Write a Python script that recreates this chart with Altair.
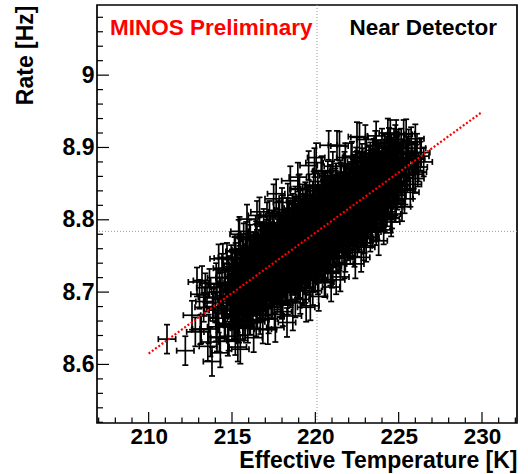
import altair as alt
import pandas as pd

# ---------------- data ----------------
TEMP = [
    211.1,
    212.2, 212.6, 212.9, 212.8,
    213.1, 213.3, 213.4, 213.6, 213.8, 213.9, 213.2, 213.7, 213.5,
    214.3, 214.8, 214.1, 214.6, 214.9, 214.2, 214.5, 214.7, 214.0, 214.4, 214.9, 214.3, 214.6, 214.1, 214.8, 214.4, 214.7, 214.2,
    215.5, 215.2, 215.8, 215.3, 215.0, 215.7, 215.4, 215.9, 215.1, 215.6, 215.3, 215.8, 215.0, 215.5, 215.2, 215.7, 215.4, 215.9, 215.1, 215.6, 215.3, 215.8, 215.0, 215.5, 215.2, 215.7, 215.4, 215.9,
    216.3, 216.7, 216.1, 216.9, 216.5, 216.0, 216.8, 216.2, 216.6, 216.4, 216.3, 216.7, 216.1, 216.9, 216.5, 216.0, 216.8, 216.2, 216.6, 216.4,
    216.3, 216.7, 216.1, 216.9, 216.5, 216.0, 216.8, 216.2, 216.6, 216.4, 216.3, 216.7, 216.1, 216.9, 216.5,
    217.6, 217.2, 217.9, 217.4, 217.0, 217.7, 217.3, 217.8, 217.1, 217.5, 217.6, 217.2, 217.9, 217.4, 217.0, 217.7, 217.3, 217.8, 217.1, 217.5,
    217.6, 217.2, 217.9, 217.4, 217.0, 217.7, 217.3, 217.8, 217.1, 217.5, 217.6, 217.2, 217.9, 217.4, 217.0, 217.7, 217.3, 217.8, 217.1, 217.5,
    218.3, 218.8, 218.0, 218.5, 218.9, 218.2, 218.6, 218.1, 218.7, 218.4, 218.3, 218.8, 218.0, 218.5, 218.9, 218.2, 218.6, 218.1, 218.7, 218.4,
    218.3, 218.8, 218.0, 218.5, 218.9, 218.2, 218.6, 218.1, 218.7, 218.4, 218.3, 218.8, 218.0, 218.5, 218.9, 218.2, 218.6, 218.1, 218.7, 218.4,
    218.3, 218.8, 218.0, 218.5,
    219.7, 219.1, 219.4, 219.9, 219.0, 219.6, 219.2, 219.8, 219.5, 219.3, 219.7, 219.1, 219.4, 219.9, 219.0, 219.6, 219.2, 219.8, 219.5, 219.3,
    219.7, 219.1, 219.4, 219.9, 219.0, 219.6, 219.2, 219.8, 219.5, 219.3, 219.7, 219.1, 219.4, 219.9, 219.0, 219.6, 219.2, 219.8, 219.5, 219.3,
    219.7, 219.1, 219.4, 219.9, 219.0, 219.6,
    220.2, 220.6, 220.9, 220.0, 220.4, 220.8, 220.3, 220.7, 220.1, 220.5, 220.2, 220.6, 220.9, 220.0, 220.4, 220.8, 220.3, 220.7, 220.1, 220.5,
    220.2, 220.6, 220.9, 220.0, 220.4, 220.8, 220.3, 220.7, 220.1, 220.5, 220.2, 220.6, 220.9, 220.0, 220.4, 220.8, 220.3, 220.7, 220.1, 220.5,
    220.2, 220.6, 220.9, 220.0, 220.4, 220.8,
    221.5, 221.0, 221.8, 221.3, 221.6, 221.1, 221.9, 221.4, 221.7, 221.2, 221.5, 221.0, 221.8, 221.3, 221.6, 221.1, 221.9, 221.4, 221.7, 221.2,
    221.5, 221.0, 221.8, 221.3, 221.6, 221.1, 221.9, 221.4, 221.7, 221.2, 221.5, 221.0, 221.8, 221.3, 221.6, 221.1, 221.9, 221.4, 221.7, 221.2,
    221.5, 221.0, 221.8, 221.3,
    222.4, 222.9, 222.1, 222.6, 222.0, 222.7, 222.3, 222.8, 222.2, 222.5, 222.4, 222.9, 222.1, 222.6, 222.0, 222.7, 222.3, 222.8, 222.2, 222.5,
    222.4, 222.9, 222.1, 222.6, 222.0, 222.7, 222.3, 222.8, 222.2, 222.5, 222.4, 222.9, 222.1, 222.6, 222.0, 222.7, 222.3, 222.8, 222.2, 222.5,
    223.8, 223.3, 223.6, 223.0, 223.9, 223.5, 223.2, 223.7, 223.1, 223.4, 223.8, 223.3, 223.6, 223.0, 223.9, 223.5, 223.2, 223.7, 223.1, 223.4,
    223.8, 223.3, 223.6, 223.0, 223.9, 223.5, 223.2, 223.7, 223.1, 223.4, 223.8, 223.3, 223.6, 223.0,
    224.1, 224.6, 224.3, 224.8, 224.0, 224.5, 224.9, 224.2, 224.7, 224.4, 224.1, 224.6, 224.3, 224.8, 224.0, 224.5, 224.9, 224.2, 224.7, 224.4,
    224.1, 224.6, 224.3, 224.8, 224.0, 224.5,
    225.2, 225.7, 225.4, 225.0, 225.9, 225.5, 225.1, 225.6, 225.3, 225.8, 225.1, 225.5, 225.2, 225.6, 225.0, 225.3,
    226.2, 226.0, 226.3, 226.1, 226.5, 226.0,
    # second part
    213.55, 213.15, 213.85, 213.35, 213.65, 213.05,
    214.75, 214.25, 214.55, 214.05, 214.95, 214.45, 214.15, 214.65, 214.35, 214.85, 214.75, 214.25, 214.55, 214.05, 214.95, 214.45,
    215.35, 215.95, 215.65, 215.15, 215.85, 215.45, 215.05, 215.75, 215.25, 215.55, 215.35, 215.95, 215.65, 215.15, 215.85, 215.45, 215.05, 215.75, 215.25, 215.55,
    215.35, 215.95, 215.65, 215.15, 215.85, 215.45,
    216.85, 216.45, 216.05, 216.65, 216.25, 216.95, 216.55, 216.15, 216.75, 216.35, 216.85, 216.45, 216.05, 216.65, 216.25, 216.95, 216.55, 216.15, 216.75, 216.35,
    216.85, 216.45, 216.05, 216.65, 216.25, 216.95, 216.55, 216.15, 216.75, 216.35, 216.85, 216.45, 216.05, 216.65,
    217.15, 217.55, 217.95, 217.35, 217.75, 217.05, 217.45, 217.85, 217.25, 217.65, 217.15, 217.55, 217.95, 217.35, 217.75, 217.05, 217.45, 217.85, 217.25, 217.65,
    217.15, 217.55, 217.95, 217.35, 217.75, 217.05, 217.45, 217.85, 217.25, 217.65, 217.15, 217.55, 217.95, 217.35, 217.75, 217.05, 217.45, 217.85, 217.25, 217.65,
    218.65, 218.05, 218.35, 218.95, 218.55, 218.25, 218.85, 218.15, 218.45, 218.75, 218.65, 218.05, 218.35, 218.95, 218.55, 218.25, 218.85, 218.15, 218.45, 218.75,
    218.65, 218.05, 218.35, 218.95, 218.55, 218.25, 218.85, 218.15, 218.45, 218.75, 218.65, 218.05, 218.35, 218.95, 218.55, 218.25, 218.85, 218.15, 218.45, 218.75,
    218.65, 218.05, 218.35, 218.95,
    219.45, 219.85, 219.25, 219.65, 219.05, 219.95, 219.35, 219.75, 219.15, 219.55, 219.45, 219.85, 219.25, 219.65, 219.05, 219.95, 219.35, 219.75, 219.15, 219.55,
    219.45, 219.85, 219.25, 219.65, 219.05, 219.95, 219.35, 219.75, 219.15, 219.55, 219.45, 219.85, 219.25, 219.65, 219.05, 219.95, 219.35, 219.75, 219.15, 219.55,
    219.45, 219.85, 219.25, 219.65, 219.05, 219.95,
    220.95, 220.55, 220.15, 220.75, 220.35, 220.05, 220.65, 220.25, 220.85, 220.45, 220.95, 220.55, 220.15, 220.75, 220.35, 220.05, 220.65, 220.25, 220.85, 220.45,
    220.95, 220.55, 220.15, 220.75, 220.35, 220.05, 220.65, 220.25, 220.85, 220.45, 220.95, 220.55, 220.15, 220.75, 220.35, 220.05, 220.65, 220.25, 220.85, 220.45,
    220.95, 220.55, 220.15, 220.75, 220.35, 220.05,
    221.25, 221.75, 221.05, 221.45, 221.95, 221.15, 221.65, 221.35, 221.85, 221.55, 221.25, 221.75, 221.05, 221.45, 221.95, 221.15, 221.65, 221.35, 221.85, 221.55,
    221.25, 221.75, 221.05, 221.45, 221.95, 221.15, 221.65, 221.35, 221.85, 221.55, 221.25, 221.75, 221.05, 221.45, 221.95, 221.15, 221.65, 221.35, 221.85, 221.55,
    221.25, 221.75, 221.05, 221.45,
    222.75, 222.35, 222.95, 222.05, 222.55, 222.25, 222.85, 222.45, 222.15, 222.65, 222.75, 222.35, 222.95, 222.05, 222.55, 222.25, 222.85, 222.45, 222.15, 222.65,
    222.75, 222.35, 222.95, 222.05, 222.55, 222.25, 222.85, 222.45, 222.15, 222.65, 222.75, 222.35, 222.95, 222.05, 222.55, 222.25, 222.85, 222.45, 222.15, 222.65,
    223.05, 223.65, 223.35, 223.95, 223.15, 223.55, 223.85, 223.25, 223.75, 223.45, 223.05, 223.65, 223.35, 223.95, 223.15, 223.55, 223.85, 223.25, 223.75, 223.45,
    223.05, 223.65, 223.35, 223.95, 223.15, 223.55, 223.85, 223.25, 223.75, 223.45, 223.05, 223.65,
    224.55, 224.15, 224.85, 224.35, 224.05, 224.65, 224.95, 224.25, 224.75, 224.45, 224.55, 224.15, 224.85, 224.35, 224.05, 224.65, 224.95, 224.25, 224.75, 224.45,
    224.55, 224.15, 224.85, 224.35,
    225.35, 225.85, 225.15, 225.65, 225.05, 225.45, 225.95, 225.25, 225.55, 225.75, 225.15, 225.45,
    226.15, 226.35, 226.05,
    # third part (dense core)
    215.52, 215.22, 215.82, 215.02, 215.62, 215.32, 215.92, 215.12, 215.72, 215.42, 215.52, 215.22, 215.82, 215.02, 215.62, 215.32, 215.92, 215.12, 215.72, 215.42,
    215.52, 215.22, 215.82, 215.02, 215.62, 215.32, 215.92, 215.12, 215.72, 215.42,
    216.52, 216.22, 216.82, 216.02, 216.62, 216.32, 216.92, 216.12, 216.72, 216.42, 216.52, 216.22, 216.82, 216.02, 216.62, 216.32, 216.92, 216.12, 216.72, 216.42,
    216.52, 216.22, 216.82, 216.02, 216.62, 216.32, 216.92, 216.12, 216.72, 216.42,
    217.52, 217.22, 217.82, 217.02, 217.62, 217.32, 217.92, 217.12, 217.72, 217.42, 217.52, 217.22, 217.82, 217.02, 217.62, 217.32, 217.92, 217.12, 217.72, 217.42,
    217.52, 217.22, 217.82, 217.02, 217.62, 217.32, 217.92, 217.12, 217.72, 217.42,
    218.52, 218.22, 218.82, 218.02, 218.62, 218.32, 218.92, 218.12, 218.72, 218.42, 218.52, 218.22, 218.82, 218.02, 218.62, 218.32, 218.92, 218.12, 218.72, 218.42,
    218.52, 218.22, 218.82, 218.02, 218.62, 218.32, 218.92, 218.12, 218.72, 218.42,
    219.52, 219.22, 219.82, 219.02, 219.62, 219.32, 219.92, 219.12, 219.72, 219.42, 219.52, 219.22, 219.82, 219.02, 219.62, 219.32, 219.92, 219.12, 219.72, 219.42,
    219.52, 219.22, 219.82, 219.02, 219.62, 219.32, 219.92, 219.12, 219.72, 219.42,
    220.52, 220.22, 220.82, 220.02, 220.62, 220.32, 220.92, 220.12, 220.72, 220.42, 220.52, 220.22, 220.82, 220.02, 220.62, 220.32, 220.92, 220.12, 220.72, 220.42,
    220.52, 220.22, 220.82, 220.02, 220.62, 220.32, 220.92, 220.12, 220.72, 220.42,
    221.52, 221.22, 221.82, 221.02, 221.62, 221.32, 221.92, 221.12, 221.72, 221.42, 221.52, 221.22, 221.82, 221.02, 221.62, 221.32, 221.92, 221.12, 221.72, 221.42,
    221.52, 221.22, 221.82, 221.02, 221.62, 221.32, 221.92, 221.12, 221.72, 221.42,
    222.52, 222.22, 222.82, 222.02, 222.62, 222.32, 222.92, 222.12, 222.72, 222.42, 222.52, 222.22, 222.82, 222.02, 222.62, 222.32, 222.92, 222.12, 222.72, 222.42,
    222.52, 222.22, 222.82, 222.02, 222.62, 222.32, 222.92, 222.12, 222.72, 222.42,
    223.52, 223.22, 223.82, 223.02, 223.62, 223.32, 223.92, 223.12, 223.72, 223.42, 223.52, 223.22, 223.82, 223.02, 223.62, 223.32, 223.92, 223.12, 223.72, 223.42,
    223.52, 223.22, 223.82, 223.02, 223.62, 223.32, 223.92, 223.12, 223.72, 223.42,
    224.52, 224.22, 224.82, 224.02, 224.62, 224.32, 224.92, 224.12, 224.72, 224.42, 224.52, 224.22, 224.82, 224.02, 224.62, 224.32, 224.92, 224.12, 224.72, 224.42,
    224.52, 224.22, 224.82, 224.02, 224.62, 224.32, 224.92, 224.12, 224.72, 224.42,
]
RATE = [
    8.635,
    8.619, 8.668, 8.714, 8.645,
    8.648, 8.679, 8.706, 8.649, 8.604, 8.685, 8.716, 8.631, 8.693,
    8.616, 8.639, 8.638, 8.656, 8.668, 8.664, 8.675, 8.685, 8.678, 8.691, 8.704, 8.700, 8.711, 8.711, 8.730, 8.733, 8.748, 8.746,
    8.621, 8.633, 8.653, 8.653, 8.654, 8.672, 8.673, 8.686, 8.678, 8.691, 8.690, 8.702, 8.693, 8.705, 8.703, 8.716, 8.715, 8.727, 8.719, 8.732, 8.732, 8.746, 8.739, 8.754, 8.757, 8.775, 8.780, 8.801,
    8.637, 8.662, 8.661, 8.681, 8.680, 8.677, 8.694, 8.688, 8.698, 8.699, 8.700, 8.710, 8.703, 8.719, 8.715, 8.710, 8.725, 8.718, 8.728, 8.727,
    8.728, 8.738, 8.731, 8.747, 8.743, 8.738, 8.755, 8.748, 8.759, 8.760, 8.763, 8.776, 8.773, 8.795, 8.806,
    8.651, 8.663, 8.685, 8.684, 8.683, 8.699, 8.697, 8.708, 8.701, 8.711, 8.715, 8.712, 8.726, 8.721, 8.717, 8.731, 8.727, 8.738, 8.729, 8.738,
    8.742, 8.738, 8.752, 8.747, 8.743, 8.757, 8.753, 8.764, 8.755, 8.765, 8.769, 8.766, 8.782, 8.777, 8.775, 8.791, 8.790, 8.805, 8.804, 8.829,
    8.658, 8.685, 8.683, 8.699, 8.712, 8.705, 8.716, 8.712, 8.726, 8.724, 8.725, 8.736, 8.726, 8.737, 8.747, 8.738, 8.747, 8.742, 8.754, 8.751,
    8.751, 8.760, 8.749, 8.758, 8.767, 8.757, 8.766, 8.761, 8.773, 8.771, 8.772, 8.783, 8.773, 8.784, 8.794, 8.785, 8.796, 8.792, 8.806, 8.806,
    8.810, 8.826, 8.824, 8.854,
    8.681, 8.690, 8.705, 8.720, 8.711, 8.726, 8.722, 8.737, 8.736, 8.735, 8.746, 8.738, 8.747, 8.757, 8.745, 8.757, 8.752, 8.765, 8.762, 8.762,
    8.771, 8.763, 8.771, 8.781, 8.769, 8.781, 8.776, 8.789, 8.786, 8.786, 8.795, 8.787, 8.795, 8.805, 8.794, 8.806, 8.803, 8.815, 8.814, 8.816,
    8.826, 8.821, 8.832, 8.847, 8.842, 8.875,
    8.694, 8.714, 8.729, 8.721, 8.734, 8.746, 8.740, 8.752, 8.746, 8.755, 8.753, 8.762, 8.771, 8.758, 8.768, 8.777, 8.770, 8.780, 8.772, 8.782,
    8.778, 8.787, 8.795, 8.782, 8.792, 8.801, 8.794, 8.804, 8.796, 8.806, 8.802, 8.811, 8.819, 8.806, 8.817, 8.826, 8.821, 8.830, 8.824, 8.836,
    8.833, 8.845, 8.856, 8.848, 8.868, 8.903,
    8.721, 8.726, 8.748, 8.747, 8.758, 8.755, 8.772, 8.768, 8.777, 8.771, 8.779, 8.774, 8.790, 8.785, 8.793, 8.787, 8.803, 8.797, 8.804, 8.797,
    8.804, 8.797, 8.812, 8.805, 8.812, 8.806, 8.821, 8.815, 8.823, 8.816, 8.824, 8.819, 8.835, 8.830, 8.838, 8.833, 8.850, 8.846, 8.855, 8.851,
    8.862, 8.861, 8.886, 8.903,
    8.739, 8.764, 8.759, 8.775, 8.770, 8.785, 8.783, 8.794, 8.788, 8.796, 8.797, 8.809, 8.797, 8.809, 8.802, 8.815, 8.811, 8.822, 8.814, 8.822,
    8.822, 8.834, 8.822, 8.834, 8.826, 8.839, 8.836, 8.847, 8.839, 8.847, 8.848, 8.860, 8.850, 8.862, 8.856, 8.871, 8.870, 8.885, 8.888, 8.915,
    8.771, 8.776, 8.790, 8.786, 8.806, 8.805, 8.804, 8.815, 8.809, 8.817, 8.827, 8.821, 8.829, 8.821, 8.839, 8.836, 8.833, 8.845, 8.837, 8.845,
    8.855, 8.848, 8.856, 8.849, 8.867, 8.864, 8.863, 8.874, 8.868, 8.878, 8.890, 8.887, 8.903, 8.911,
    8.786, 8.808, 8.811, 8.826, 8.818, 8.831, 8.843, 8.835, 8.848, 8.847, 8.845, 8.856, 8.854, 8.864, 8.854, 8.865, 8.876, 8.868, 8.881, 8.881,
    8.881, 8.894, 8.895, 8.911, 8.906, 8.918,
    8.818, 8.838, 8.841, 8.842, 8.863, 8.861, 8.859, 8.873, 8.872, 8.885, 8.878, 8.890, 8.891, 8.905, 8.905, 8.918,
    8.873, 8.857, 8.888, 8.899, 8.880, 8.912,
    # second part
    8.625, 8.649, 8.680, 8.687, 8.712, 8.697,
    8.632, 8.637, 8.652, 8.652, 8.675, 8.674, 8.675, 8.689, 8.690, 8.704, 8.709, 8.707, 8.720, 8.720, 8.745, 8.747,
    8.624, 8.650, 8.655, 8.655, 8.672, 8.672, 8.670, 8.687, 8.683, 8.693, 8.694, 8.708, 8.707, 8.703, 8.718, 8.716, 8.713, 8.730, 8.726, 8.736,
    8.738, 8.754, 8.756, 8.756, 8.777, 8.784,
    8.649, 8.659, 8.661, 8.678, 8.677, 8.694, 8.691, 8.689, 8.702, 8.699, 8.710, 8.707, 8.703, 8.716, 8.712, 8.727, 8.722, 8.720, 8.732, 8.728,
    8.739, 8.736, 8.732, 8.745, 8.741, 8.757, 8.753, 8.751, 8.765, 8.763, 8.777, 8.778, 8.780, 8.811,
    8.648, 8.669, 8.686, 8.683, 8.696, 8.688, 8.700, 8.709, 8.703, 8.714, 8.708, 8.718, 8.727, 8.720, 8.730, 8.720, 8.730, 8.739, 8.731, 8.741,
    8.735, 8.744, 8.753, 8.746, 8.756, 8.746, 8.756, 8.765, 8.757, 8.768, 8.762, 8.772, 8.783, 8.776, 8.788, 8.780, 8.793, 8.806, 8.806, 8.836,
    8.667, 8.673, 8.689, 8.707, 8.706, 8.706, 8.720, 8.713, 8.722, 8.730, 8.731, 8.724, 8.732, 8.745, 8.741, 8.739, 8.751, 8.743, 8.750, 8.757,
    8.757, 8.748, 8.755, 8.766, 8.761, 8.758, 8.770, 8.762, 8.769, 8.777, 8.778, 8.771, 8.779, 8.792, 8.788, 8.786, 8.800, 8.793, 8.802, 8.812,
    8.816, 8.814, 8.830, 8.859,
    8.679, 8.702, 8.702, 8.716, 8.712, 8.732, 8.725, 8.737, 8.731, 8.739, 8.742, 8.750, 8.744, 8.753, 8.746, 8.763, 8.755, 8.765, 8.757, 8.766,
    8.767, 8.775, 8.768, 8.777, 8.770, 8.787, 8.779, 8.789, 8.781, 8.790, 8.791, 8.799, 8.792, 8.801, 8.795, 8.812, 8.806, 8.815, 8.809, 8.820,
    8.822, 8.833, 8.829, 8.843, 8.843, 8.879,
    8.707, 8.713, 8.717, 8.734, 8.733, 8.733, 8.746, 8.744, 8.758, 8.754, 8.766, 8.761, 8.759, 8.771, 8.767, 8.764, 8.776, 8.772, 8.784, 8.781,
    8.791, 8.786, 8.783, 8.795, 8.791, 8.788, 8.800, 8.796, 8.808, 8.805, 8.815, 8.810, 8.807, 8.819, 8.816, 8.813, 8.827, 8.822, 8.836, 8.835,
    8.846, 8.844, 8.844, 8.861, 8.867, 8.886,
    8.717, 8.739, 8.736, 8.750, 8.764, 8.756, 8.768, 8.767, 8.779, 8.777, 8.775, 8.787, 8.778, 8.788, 8.799, 8.788, 8.799, 8.796, 8.806, 8.803,
    8.800, 8.810, 8.800, 8.808, 8.818, 8.807, 8.817, 8.814, 8.825, 8.822, 8.820, 8.832, 8.823, 8.833, 8.844, 8.834, 8.846, 8.845, 8.857, 8.857,
    8.858, 8.874, 8.874, 8.902,
    8.748, 8.755, 8.774, 8.766, 8.779, 8.778, 8.792, 8.789, 8.788, 8.799, 8.804, 8.800, 8.812, 8.800, 8.811, 8.808, 8.820, 8.817, 8.814, 8.825,
    8.829, 8.825, 8.837, 8.825, 8.835, 8.832, 8.845, 8.842, 8.839, 8.850, 8.855, 8.851, 8.865, 8.853, 8.865, 8.864, 8.879, 8.880, 8.886, 8.914,
    8.762, 8.785, 8.788, 8.804, 8.796, 8.807, 8.816, 8.810, 8.822, 8.820, 8.816, 8.829, 8.827, 8.840, 8.830, 8.839, 8.847, 8.840, 8.852, 8.850,
    8.846, 8.859, 8.857, 8.871, 8.862, 8.872, 8.881, 8.876, 8.890, 8.891, 8.892, 8.916,
    8.797, 8.804, 8.823, 8.821, 8.822, 8.837, 8.847, 8.839, 8.852, 8.851, 8.855, 8.852, 8.866, 8.862, 8.861, 8.875, 8.884, 8.877, 8.891, 8.891,
    8.898, 8.899, 8.918, 8.920,
    8.829, 8.849, 8.847, 8.863, 8.860, 8.873, 8.887, 8.882, 8.895, 8.908, 8.906, 8.919,
    8.866, 8.893, 8.884,
    # third part (dense core)
    8.759, 8.748, 8.753, 8.735, 8.741, 8.732, 8.738, 8.721, 8.728, 8.720, 8.719, 8.711, 8.718, 8.701, 8.708, 8.700, 8.707, 8.691, 8.698, 8.690,
    8.689, 8.681, 8.687, 8.669, 8.675, 8.666, 8.672, 8.655, 8.660, 8.650,
    8.669, 8.669, 8.684, 8.674, 8.688, 8.687, 8.701, 8.692, 8.706, 8.704, 8.709, 8.707, 8.720, 8.709, 8.722, 8.720, 8.733, 8.723, 8.736, 8.734,
    8.739, 8.737, 8.750, 8.740, 8.754, 8.753, 8.767, 8.758, 8.773, 8.774,
    8.792, 8.781, 8.786, 8.768, 8.774, 8.765, 8.771, 8.754, 8.761, 8.753, 8.752, 8.744, 8.751, 8.734, 8.741, 8.733, 8.740, 8.724, 8.731, 8.723,
    8.722, 8.714, 8.720, 8.702, 8.708, 8.699, 8.705, 8.688, 8.693, 8.683,
    8.702, 8.702, 8.717, 8.707, 8.721, 8.720, 8.734, 8.725, 8.739, 8.737, 8.742, 8.740, 8.753, 8.742, 8.755, 8.753, 8.766, 8.756, 8.769, 8.767,
    8.772, 8.770, 8.783, 8.773, 8.787, 8.786, 8.800, 8.791, 8.806, 8.807,
    8.826, 8.815, 8.820, 8.802, 8.808, 8.799, 8.805, 8.788, 8.795, 8.787, 8.786, 8.778, 8.785, 8.768, 8.775, 8.767, 8.774, 8.758, 8.765, 8.757,
    8.756, 8.748, 8.754, 8.736, 8.742, 8.733, 8.739, 8.722, 8.727, 8.717,
    8.735, 8.735, 8.750, 8.740, 8.754, 8.753, 8.767, 8.758, 8.772, 8.770, 8.775, 8.773, 8.786, 8.775, 8.788, 8.786, 8.799, 8.789, 8.802, 8.800,
    8.805, 8.803, 8.816, 8.806, 8.820, 8.819, 8.833, 8.824, 8.839, 8.840,
    8.859, 8.848, 8.853, 8.835, 8.841, 8.832, 8.838, 8.821, 8.828, 8.820, 8.819, 8.811, 8.818, 8.801, 8.808, 8.800, 8.807, 8.791, 8.798, 8.790,
    8.789, 8.781, 8.787, 8.769, 8.775, 8.766, 8.772, 8.755, 8.760, 8.750,
    8.769, 8.769, 8.784, 8.774, 8.788, 8.787, 8.801, 8.792, 8.806, 8.804, 8.809, 8.807, 8.820, 8.809, 8.822, 8.820, 8.833, 8.823, 8.836, 8.834,
    8.839, 8.837, 8.850, 8.840, 8.854, 8.853, 8.867, 8.858, 8.873, 8.874,
    8.892, 8.881, 8.886, 8.868, 8.874, 8.865, 8.871, 8.854, 8.861, 8.853, 8.852, 8.844, 8.851, 8.834, 8.841, 8.833, 8.840, 8.824, 8.831, 8.823,
    8.822, 8.814, 8.820, 8.802, 8.808, 8.799, 8.805, 8.788, 8.793, 8.783,
    8.802, 8.802, 8.817, 8.807, 8.821, 8.820, 8.834, 8.825, 8.839, 8.837, 8.842, 8.840, 8.853, 8.842, 8.855, 8.853, 8.866, 8.856, 8.869, 8.867,
    8.872, 8.870, 8.883, 8.873, 8.887, 8.886, 8.900, 8.891, 8.906, 8.907,
]
TEMP_ERR = 0.52
RATE_ERR = 0.020

FIT_T = [210.0, 230.0]
FIT_R = [8.615, 8.949]
MEAN_T = 220.1
MEAN_R = 8.784

X_MAJOR = [210, 215, 220, 225, 230]
X_MINOR = [207, 208, 209, 211, 212, 213, 214, 216, 217, 218, 219, 221, 222, 223, 224,
           226, 227, 228, 229, 231, 232]
Y_MAJOR = [8.6, 8.7, 8.8, 8.9, 9.0]
Y_MINOR = [8.52, 8.54, 8.56, 8.58, 8.62, 8.64, 8.66, 8.68, 8.72, 8.74, 8.76, 8.78,
           8.82, 8.84, 8.86, 8.88, 8.92, 8.94, 8.96, 8.98, 9.02, 9.04, 9.06, 9.08]

LABEL_LEFT = "MINOS Preliminary"
LABEL_RIGHT = "Near Detector"
X_TITLE = "Effective Temperature [K]"
Y_TITLE = "Rate [Hz]"

X_DOMAIN = [206.9, 232.1]
Y_DOMAIN = [8.519, 9.097]

# ---------------- chart ----------------
W, H = 420, 418
FONT = "Liberation Sans"
FS = 23

xs = alt.Scale(domain=X_DOMAIN, nice=False, zero=False)
ys = alt.Scale(domain=Y_DOMAIN, nice=False, zero=False)

x_axis = alt.Axis(
    values=X_MAJOR, format="d", ticks=False, domain=False, grid=False,
    labelFont=FONT, labelFontSize=22.5, labelFontWeight="bold", labelColor="black",
    labelPadding=20, labelBaseline="alphabetic", labelFlush=False,
    title=X_TITLE, titleFont=FONT, titleFontSize=FS, titleFontWeight="bold",
    titleColor="black", titleAnchor="end", titleAlign="right", titleX=W, titleY=44,
    titleBaseline="alphabetic",
)
y_axis = alt.Axis(
    values=Y_MAJOR, format="~g", ticks=False, domain=False, grid=False,
    labelFont=FONT, labelFontSize=FS, labelFontWeight="bold", labelColor="black",
    labelPadding=3, labelFlush=False,
    title=Y_TITLE, titleFont=FONT, titleFontSize=FS, titleFontWeight="bold",
    titleColor="black", titleAngle=270, titleAlign="right", titleBaseline="alphabetic",
    titleX=-65, titleY=0,
)


def X(f):
    return alt.X(f, scale=xs, axis=x_axis)


def Y(f):
    return alt.Y(f, scale=ys, axis=y_axis)


df = pd.DataFrame({"t": TEMP, "r": RATE})
base = alt.Chart(df).transform_calculate(
    t_lo=f"datum.t - {TEMP_ERR}",
    t_hi=f"datum.t + {TEMP_ERR}",
    r_lo=f"datum.r - {RATE_ERR}",
    r_hi=f"datum.r + {RATE_ERR}",
)

mean_v = alt.Chart(pd.DataFrame({"t": [MEAN_T]})).mark_rule(
    color="#9a9a9a", strokeWidth=1, strokeDash=[1, 2]
).encode(x=X("t:Q"))
mean_h = alt.Chart(pd.DataFrame({"r": [MEAN_R]})).mark_rule(
    color="#9a9a9a", strokeWidth=1, strokeDash=[1, 2]
).encode(y=Y("r:Q"))

SW = 1.7
hbar = base.mark_rule(color="black", strokeWidth=SW).encode(
    x=X("t_lo:Q"), x2="t_hi:Q", y=Y("r:Q"))
vbar = base.mark_rule(color="black", strokeWidth=SW).encode(
    x=X("t:Q"), y=Y("r_lo:Q"), y2="r_hi:Q")
cap_l = base.mark_tick(orient="vertical", color="black", size=6, thickness=SW, opacity=1).encode(
    x=X("t_lo:Q"), y=Y("r:Q"))
cap_r = base.mark_tick(orient="vertical", color="black", size=6, thickness=SW, opacity=1).encode(
    x=X("t_hi:Q"), y=Y("r:Q"))
cap_b = base.mark_tick(orient="horizontal", color="black", size=6, thickness=SW, opacity=1).encode(
    x=X("t:Q"), y=Y("r_lo:Q"))
cap_t = base.mark_tick(orient="horizontal", color="black", size=6, thickness=SW, opacity=1).encode(
    x=X("t:Q"), y=Y("r_hi:Q"))

fit = alt.Chart(pd.DataFrame({"t": FIT_T, "r": FIT_R})).mark_line(
    color="#ff0000", strokeWidth=2.2, strokeDash=[2, 2]
).encode(x=X("t:Q"), y=Y("r:Q"))

xt_major = alt.Chart(pd.DataFrame({"v": X_MAJOR})).mark_rule(color="black", strokeWidth=1.2).encode(
    x=X("v:Q"), y=alt.value(H), y2=alt.value(H - 11))
xt_minor = alt.Chart(pd.DataFrame({"v": X_MINOR})).mark_rule(color="black", strokeWidth=1.2).encode(
    x=X("v:Q"), y=alt.value(H), y2=alt.value(H - 5.5))
yt_major = alt.Chart(pd.DataFrame({"v": Y_MAJOR})).mark_rule(color="black", strokeWidth=1.2).encode(
    y=Y("v:Q"), x=alt.value(0), x2=alt.value(12))
yt_minor = alt.Chart(pd.DataFrame({"v": Y_MINOR})).mark_rule(color="black", strokeWidth=1.2).encode(
    y=Y("v:Q"), x=alt.value(0), x2=alt.value(6))

txt_l = alt.Chart(pd.DataFrame({"s": [LABEL_LEFT]})).mark_text(
    font=FONT, fontSize=22.5, fontWeight="bold", color="#ff0000", align="left", baseline="alphabetic"
).encode(text="s:N", x=alt.value(13), y=alt.value(30))
txt_r = alt.Chart(pd.DataFrame({"s": [LABEL_RIGHT]})).mark_text(
    font=FONT, fontSize=22.5, fontWeight="bold", color="black", align="right", baseline="alphabetic"
).encode(text="s:N", x=alt.value(400), y=alt.value(30))

chart = alt.layer(
    mean_v, mean_h, hbar, vbar, cap_l, cap_r, cap_b, cap_t, fit,
    xt_major, xt_minor, yt_major, yt_minor, txt_l, txt_r,
).properties(
    width=W, height=H,
    autosize=alt.AutoSizeParams(type="none"),
    padding={"left": 97, "top": 5, "right": 11, "bottom": 51},
    background="white",
).configure_view(stroke="black", strokeWidth=1.7)

chart.save("out.html", embed_options={"renderer": "svg", "actions": False})
